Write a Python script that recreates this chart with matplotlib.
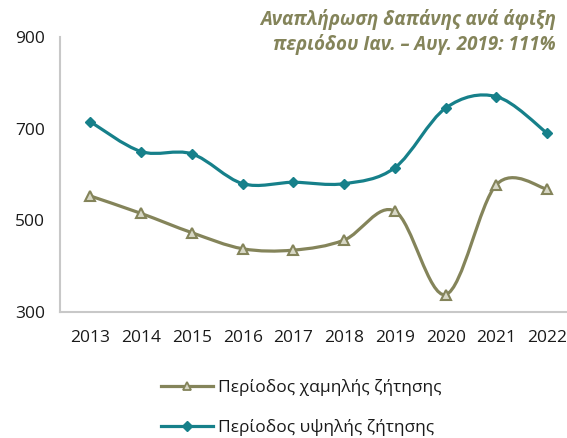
import numpy as np
import matplotlib
matplotlib.use('Agg')
import matplotlib.pyplot as plt
from matplotlib.path import Path
from matplotlib.patches import PathPatch
from matplotlib.lines import Line2D

plt.rcParams['font.family'] = ['Open Sans', 'DejaVu Sans']

years = [2013, 2014, 2015, 2016, 2017, 2018, 2019, 2020, 2021, 2022]
low_season = [553, 515, 473, 438, 435, 457, 520, 338, 578, 568]
high_season = [715, 650, 645, 580, 583, 580, 615, 745, 770, 690]
labels = ['Περίοδος χαμηλής ζήτησης', 'Περίοδος υψηλής ζήτησης']
title_txt = 'Αναπλήρωση δαπάνης ανά άφιξη\nπεριόδου Ιαν. – Αυγ. 2019: 111%'

OLIVE = '#84845a'
TEAL = '#16808a'


def smooth_path(x, y):
    # Catmull-Rom style bezier segments, similar to Excel smoothed lines
    pts = np.column_stack([x, y]).astype(float)
    verts = [pts[0]]
    codes = [Path.MOVETO]
    n = len(pts)
    for i in range(n - 1):
        p0 = pts[i - 1] if i > 0 else pts[i]
        p1 = pts[i]
        p2 = pts[i + 1]
        p3 = pts[i + 2] if i + 2 < n else pts[i + 1]
        c1 = p1 + (p2 - p0) / 6.0
        c2 = p2 - (p3 - p1) / 6.0
        verts += [c1, c2, p2]
        codes += [Path.CURVE4] * 3
    return Path(verts, codes)


fig = plt.figure(figsize=(5.67, 4.38), dpi=100)
ax = fig.add_axes([60 / 567, 1 - 312 / 438, 1 - 60 / 567, 275 / 438])

ax.add_patch(PathPatch(smooth_path(years, low_season), fill=False,
                       edgecolor=OLIVE, lw=2.3, zorder=2))
ax.add_patch(PathPatch(smooth_path(years, high_season), fill=False,
                       edgecolor=TEAL, lw=2.3, zorder=2))
ax.plot(years, low_season, ls='none', marker='^', ms=6.5, mfc='#d8d8c6',
        mec=OLIVE, mew=1.5, zorder=3)
ax.plot(years, high_season, ls='none', marker='D', ms=5, mfc=TEAL,
        mec=TEAL, zorder=3)

ax.set_xlim(2012.4, 2022.39)
ax.set_ylim(300, 900)
ax.set_yticks([300, 500, 700, 900])
ax.set_xticks(years)
ax.tick_params(length=0, labelsize=12.5, colors='#1a1a1a')
ax.tick_params(axis='x', pad=13)
ax.tick_params(axis='y', pad=11)
for s in ['top', 'right']:
    ax.spines[s].set_visible(False)
for s in ['left', 'bottom']:
    ax.spines[s].set_color('#c8c8c8')
    ax.spines[s].set_linewidth(1.5)

fig.text(556 / 567, 1 - 9 / 438, title_txt, ha='right', va='top',
         fontsize=13.5, fontweight='bold', fontstyle='italic', color=OLIVE,
         linespacing=1.25)

handles = [
    Line2D([], [], color=OLIVE, lw=2.3, marker='^', ms=6, mfc='#d8d8c6',
           mec=OLIVE, mew=1.3),
    Line2D([], [], color=TEAL, lw=2.3, marker='D', ms=5, mfc=TEAL, mec=TEAL),
]
fig.legend(handles, labels, loc='upper left', bbox_to_anchor=(145 / 567, 1 - 363 / 438),
           frameon=False, fontsize=12.5, handlelength=3.0, labelspacing=1.35,
           handletextpad=0.3, labelcolor='#1a1a1a')

fig.savefig('out.png', dpi=100)
